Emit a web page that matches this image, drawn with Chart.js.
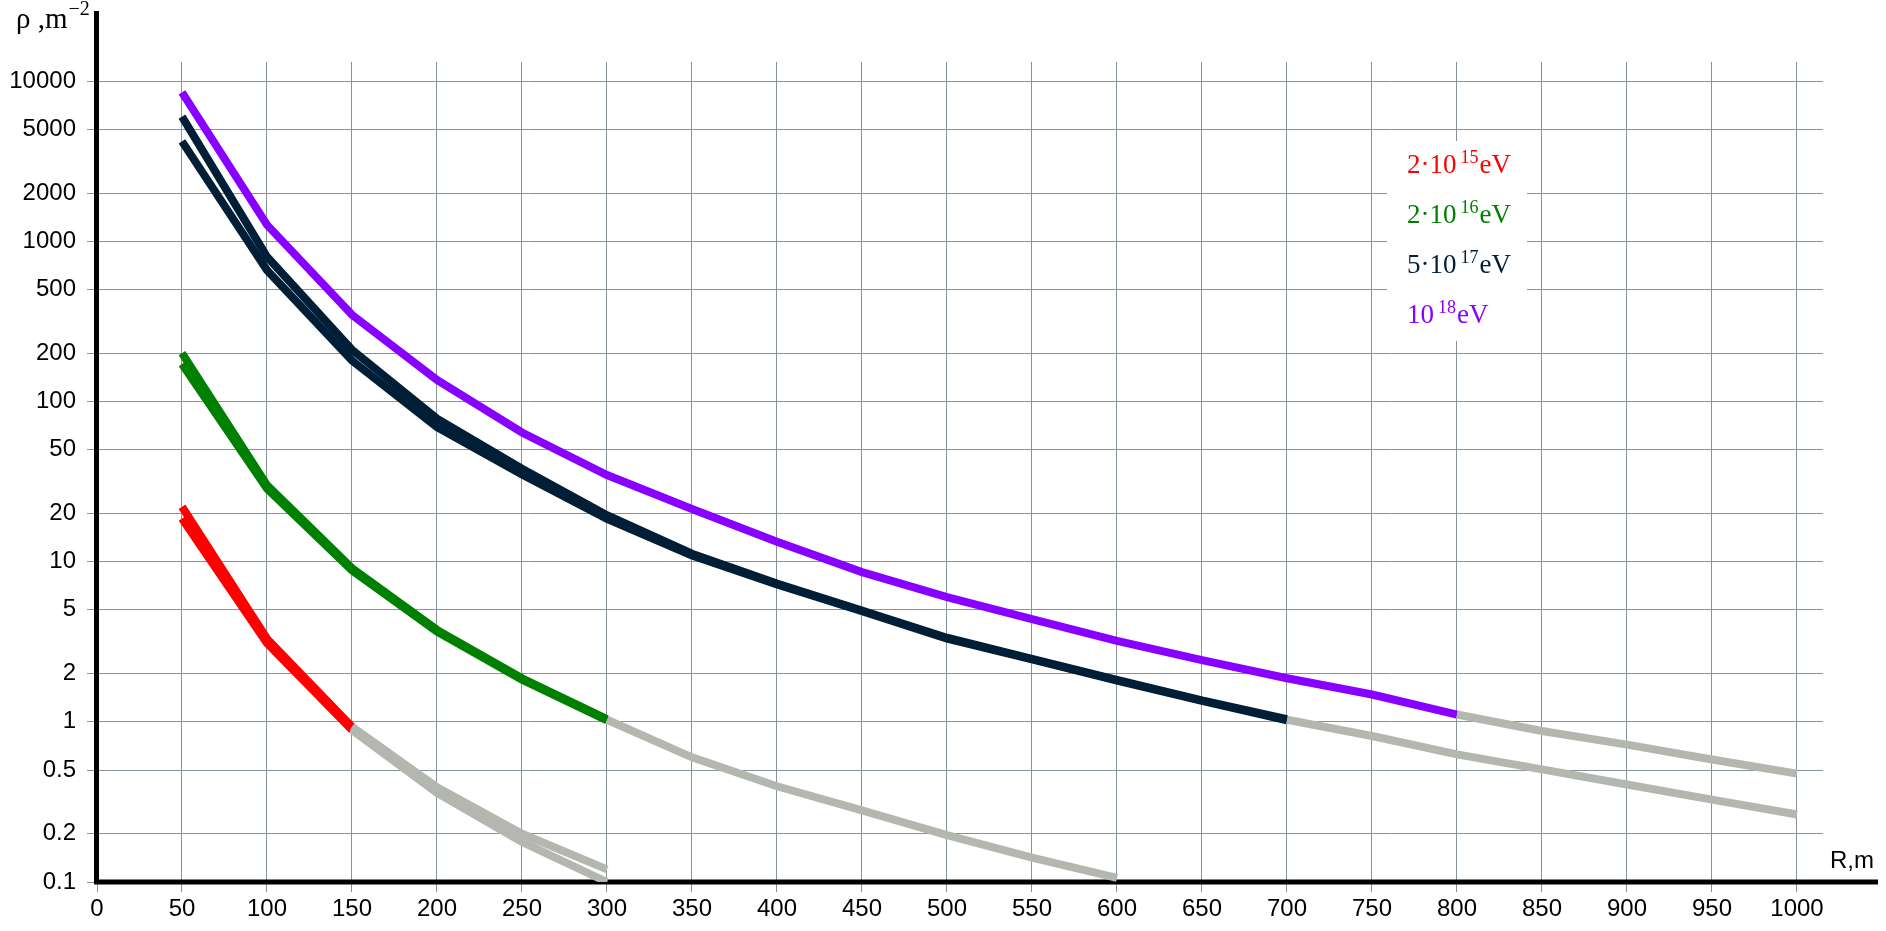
<!DOCTYPE html>
<html>
<head>
<meta charset="utf-8">
<script src="https://cdn.jsdelivr.net/npm/chart.js@4.4.1/dist/chart.umd.min.js"></script>
<style>
    html, body { margin: 0; padding: 0; background: #fff; }
    #wrap { width: 1886px; height: 931px; position: relative; }
</style>
</head>
<body>
<div id="wrap"><canvas id="densityChart"></canvas></div>
<script>
// Distance from shower axis, m
const xTicks = [0, 50, 100, 150, 200, 250, 300, 350, 400, 450, 500, 550, 600, 650, 700, 750, 800, 850, 900, 950, 1000];
const yTicks = [0.1, 0.2, 0.5, 1, 2, 5, 10, 20, 50, 100, 200, 500, 1000, 2000, 5000, 10000];

// 2*10^15 eV
const rRed = [50, 100, 150];
const rhoRedA = [22, 3.3, 0.93];
const rhoRedB = [18.6, 3.1, 0.89];
const rRedTail = [150, 200, 250, 300];
const rhoRedTailA = [0.93, 0.39, 0.2, 0.12];
const rhoRedTailB = [0.89, 0.36, 0.178, 0.1];

// 2*10^16 eV
const rGreen = [50, 100, 150, 200, 250, 300];
const rhoGreenA = [200, 30, 9.1, 3.75, 1.87, 1.04];
const rhoGreenB = [171, 28.5, 8.8, 3.65, 1.83, 1.02];
const rGreenTail = [300, 350, 400, 450, 500, 550, 600];
const rhoGreenTail = [1.03, 0.6, 0.396, 0.28, 0.196, 0.142, 0.106];

// 5*10^17 eV
const rNavy = [50, 100, 150, 200, 250, 300, 350, 400, 450, 500, 550, 600, 650, 700];
const rhoNavyA = [6000, 800, 210, 78, 38, 19.5, 11.2, 7.3, 4.95, 3.35, 2.47, 1.83, 1.36, 1.04];
const rhoNavyB = [4200, 660, 180, 69, 35, 18.5, 10.9, 7.2, 4.9, 3.3, 2.45, 1.81, 1.35, 1.02];
const rNavyTail = [700, 750, 800, 850, 900, 950, 1000];
const rhoNavyTail = [1.03, 0.815, 0.626, 0.505, 0.406, 0.327, 0.264];

// 10^18 eV
const rPurple = [50, 100, 150, 200, 250, 300, 350, 400, 450, 500, 550, 600, 650, 700, 750, 800];
const rhoPurple = [8500, 1265, 347, 136, 64, 34.7, 21.3, 13.3, 8.6, 6.0, 4.37, 3.2, 2.43, 1.87, 1.48, 1.11];
const rPurpleTail = [800, 850, 900, 950, 1000];
const rhoPurpleTail = [1.11, 0.877, 0.72, 0.582, 0.475];

// legend entries
const legendMant = ['2\u00b710', '2\u00b710', '5\u00b710', '10'];
const legendExp = ['15', '16', '17', '18'];

const RED = '#ff0000';
const GREEN = '#008000';
const NAVY = '#001f36';
const PURPLE = '#8800ff';
const GREY = '#b4b7b0';
const GRID = '#87939a';

function pts(xs, ys) {
    return xs.map((x, i) => ({ x: x, y: ys[i] }));
}

function line(xs, ys, color) {
    return {
        data: pts(xs, ys),
        borderColor: color,
        backgroundColor: color,
        borderWidth: 8,
        pointRadius: 0,
        tension: 0,
        fill: false
    };
}

// axes, titles and the legend box
const decorPlugin = {
    id: 'decor',
    beforeDatasetsDraw(chart) {
        const ctx = chart.ctx;
        const a = chart.chartArea;
        ctx.save();
        ctx.strokeStyle = '#000';
        ctx.lineWidth = 5;
        ctx.beginPath();
        ctx.moveTo(a.left - 0.5, 11);
        ctx.lineTo(a.left - 0.5, a.bottom + 2.5);
        ctx.moveTo(a.left - 3, a.bottom);
        ctx.lineTo(1878, a.bottom);
        ctx.stroke();
        ctx.restore();
    },
    afterDraw(chart) {
        const ctx = chart.ctx;
        ctx.save();

        // y title
        ctx.fillStyle = '#000';
        ctx.textBaseline = 'alphabetic';
        ctx.font = '29px "Liberation Serif", "Times New Roman", serif';
        ctx.fillText('\u03c1 ,m', 16, 28);
        let w = ctx.measureText('\u03c1 ,m').width;
        ctx.font = '20px "Liberation Serif", "Times New Roman", serif';
        ctx.fillText('\u22122', 16 + w + 1, 15);

        // x title
        ctx.font = '24px "Liberation Sans", Arial, sans-serif';
        ctx.fillText('R,m', 1830, 868);

        // legend
        ctx.fillStyle = '#fff';
        ctx.fillRect(1387, 141, 140, 200);
        const colors = [RED, GREEN, NAVY, PURPLE];
        for (let i = 0; i < legendMant.length; i++) {
            const base = 173 + i * 50;
            let x = 1407;
            ctx.fillStyle = colors[i];
            ctx.font = '27px "Liberation Serif", "Times New Roman", serif';
            ctx.fillText(legendMant[i], x, base);
            x += ctx.measureText(legendMant[i]).width + 4;
            ctx.font = '18px "Liberation Serif", "Times New Roman", serif';
            ctx.fillText(legendExp[i], x, base - 10);
            x += ctx.measureText(legendExp[i]).width + 1;
            ctx.font = '27px "Liberation Serif", "Times New Roman", serif';
            ctx.fillText('eV', x, base);
        }
        ctx.restore();
    }
};

const ctx = document.getElementById('densityChart').getContext('2d');

const densityChart = new Chart(ctx, {
    type: 'line',
    data: {
        datasets: [
            line(rRedTail, rhoRedTailA, GREY),
            line(rRedTail, rhoRedTailB, GREY),
            line(rGreenTail, rhoGreenTail, GREY),
            line(rNavyTail, rhoNavyTail, GREY),
            line(rPurpleTail, rhoPurpleTail, GREY),
            line(rRed, rhoRedA, RED),
            line(rRed, rhoRedB, RED),
            line(rGreen, rhoGreenA, GREEN),
            line(rGreen, rhoGreenB, GREEN),
            line(rNavy, rhoNavyA, NAVY),
            line(rNavy, rhoNavyB, NAVY),
            line(rPurple, rhoPurple, PURPLE)
        ]
    },
    options: {
        responsive: true,
        maintainAspectRatio: false,
        animation: false,
        layout: { padding: { top: 62, right: 63, left: 0, bottom: 0 } },
        plugins: {
            legend: { display: false },
            tooltip: { enabled: false }
        },
        scales: {
            x: {
                type: 'linear',
                min: 0,
                max: 1015.3,
                afterBuildTicks: function (scale) {
                    scale.ticks = xTicks.map(v => ({ value: v }));
                },
                afterFit: function (scale) { scale.height = 49; },
                border: { display: false },
                grid: { color: GRID, lineWidth: 1, tickLength: 10, tickColor: GRID },
                ticks: {
                    color: '#000',
                    padding: 3,
                    maxRotation: 0,
                    autoSkip: false,
                    font: { family: '"Liberation Sans", Arial, sans-serif', size: 24 },
                    callback: function (value) { return String(value); }
                }
            },
            y: {
                type: 'logarithmic',
                min: 0.1,
                max: 13147,
                afterBuildTicks: function (scale) {
                    scale.ticks = yTicks.map(v => ({ value: v }));
                },
                afterFit: function (scale) { scale.width = 97; },
                border: { display: false },
                grid: { color: GRID, lineWidth: 1, tickLength: 10, tickColor: GRID },
                ticks: {
                    color: '#000',
                    padding: 11,
                    autoSkip: false,
                    font: { family: '"Liberation Sans", Arial, sans-serif', size: 24 },
                    callback: function (value) { return String(value); }
                }
            }
        }
    },
    plugins: [decorPlugin]
});
</script>
</body>
</html>
